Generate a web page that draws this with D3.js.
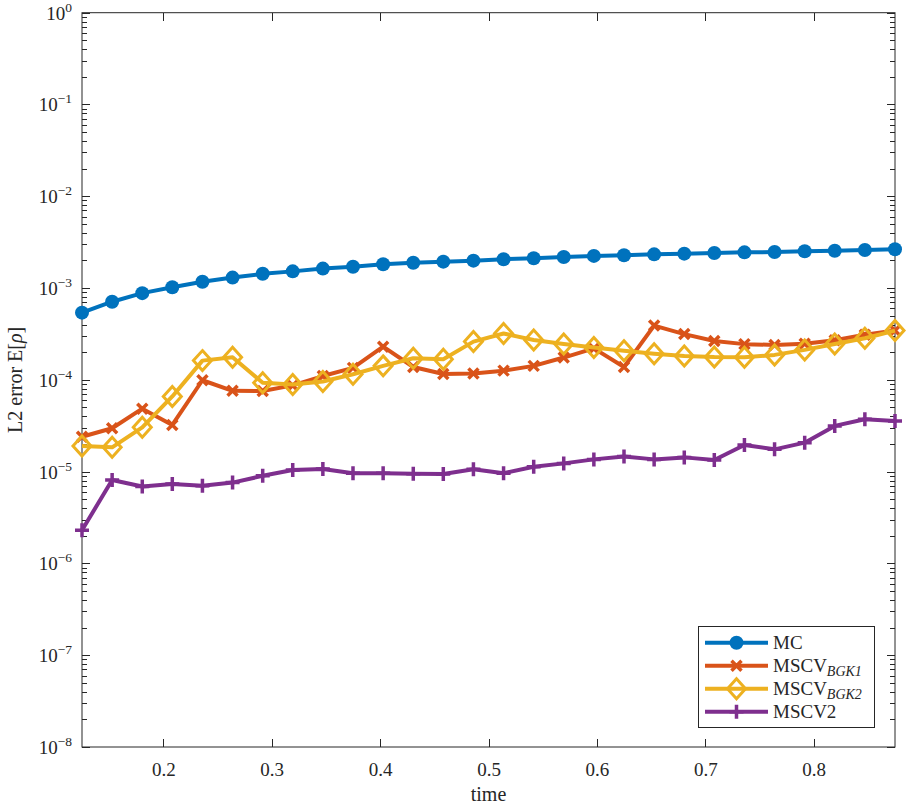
<!DOCTYPE html>
<html lang="en">
<head>
<meta charset="UTF-8">
<title>L2 error</title>
<script src="https://d3js.org/d3.v7.min.js"></script>
<style>
    body { margin: 0; background: #fff; }
    text { font-family: "Liberation Serif", "DejaVu Serif", serif; fill: #262626; }
    .axis path, .axis line { stroke: #262626; stroke-width: 1; shape-rendering: crispEdges; }
</style>
</head>
<body>
<svg id="chart" width="907" height="805"></svg>
<script>
// time steps
const times = [0.125, 0.1528, 0.1806, 0.2083, 0.2361, 0.2639, 0.2917, 0.3194, 0.3472, 0.375,
    0.4028, 0.4306, 0.4583, 0.4861, 0.5139, 0.5417, 0.5694, 0.5972, 0.625, 0.6528,
    0.6806, 0.7083, 0.7361, 0.7639, 0.7917, 0.8194, 0.8472, 0.875];

const mc = [5.4e-4, 7.1e-4, 8.8e-4, 1.02e-3, 1.17e-3, 1.30e-3, 1.43e-3, 1.52e-3, 1.63e-3, 1.71e-3,
    1.82e-3, 1.89e-3, 1.94e-3, 1.99e-3, 2.06e-3, 2.11e-3, 2.18e-3, 2.24e-3, 2.28e-3, 2.33e-3,
    2.37e-3, 2.41e-3, 2.45e-3, 2.47e-3, 2.52e-3, 2.55e-3, 2.60e-3, 2.65e-3];

const bgk1 = [2.4e-5, 2.97e-5, 4.85e-5, 3.23e-5, 9.9e-5, 7.6e-5, 7.55e-5, 8.7e-5, 1.1e-4, 1.35e-4,
    2.3e-4, 1.38e-4, 1.16e-4, 1.17e-4, 1.26e-4, 1.42e-4, 1.75e-4, 2.2e-4, 1.38e-4, 3.9e-4,
    3.15e-4, 2.65e-4, 2.45e-4, 2.4e-4, 2.48e-4, 2.7e-4, 3.1e-4, 3.45e-4];

const bgk2 = [1.9e-5, 1.84e-5, 3.04e-5, 6.6e-5, 1.62e-4, 1.76e-4, 9.3e-5, 8.9e-5, 9.6e-5, 1.15e-4,
    1.42e-4, 1.72e-4, 1.68e-4, 2.61e-4, 3.2e-4, 2.72e-4, 2.46e-4, 2.25e-4, 2.08e-4, 1.93e-4,
    1.82e-4, 1.77e-4, 1.76e-4, 1.87e-4, 2.12e-4, 2.46e-4, 2.84e-4, 3.44e-4];

const mscv2 = [2.3e-6, 8.1e-6, 6.9e-6, 7.35e-6, 7.0e-6, 7.6e-6, 9.0e-6, 1.04e-5, 1.07e-5, 9.6e-6,
    9.6e-6, 9.5e-6, 9.44e-6, 1.06e-5, 9.6e-6, 1.13e-5, 1.23e-5, 1.36e-5, 1.46e-5, 1.36e-5,
    1.43e-5, 1.34e-5, 1.95e-5, 1.75e-5, 2.07e-5, 3.15e-5, 3.72e-5, 3.56e-5];

const xTicks = [0.2, 0.3, 0.4, 0.5, 0.6, 0.7, 0.8];
const yExponents = [0, -1, -2, -3, -4, -5, -6, -7, -8];

const series = [
    { name: "MC", sub: null, values: mc, color: "#0072BD", marker: "circle" },
    { name: "MSCV", sub: "BGK1", values: bgk1, color: "#D95319", marker: "cross" },
    { name: "MSCV", sub: "BGK2", values: bgk2, color: "#EDB120", marker: "diamond" },
    { name: "MSCV2", sub: null, values: mscv2, color: "#7E2F8E", marker: "plus" }
];

const plotL = 82, plotR = 895, plotT = 12.7, plotB = 747;
const svg = d3.select("#chart");

const x = d3.scaleLinear().domain([0.125, 0.875]).range([plotL, plotR]);
const y = d3.scaleLog().domain([1e-8, 1]).range([plotB, plotT]);

// minor log ticks
const minor = [];
for (let e = -8; e < 0; e++) {
    for (let m = 2; m <= 9; m++) minor.push(m * Math.pow(10, e));
}
const major = yExponents.map(e => Math.pow(10, e));

// box
svg.append("rect")
    .attr("x", plotL).attr("y", plotT)
    .attr("width", plotR - plotL).attr("height", plotB - plotT)
    .attr("fill", "none").attr("stroke", "#262626").attr("stroke-width", 1);

// x axes
svg.append("g").attr("class", "axis")
    .attr("transform", `translate(0,${plotB})`)
    .call(d3.axisBottom(x).tickValues(xTicks).tickSizeInner(-8).tickSizeOuter(0)
        .tickPadding(16).tickFormat(d3.format(".1f")))
    .call(g => g.select(".domain").remove())
    .selectAll("text").style("font-size", "19px").attr("fill", "#262626");

svg.append("g").attr("class", "axis")
    .attr("transform", `translate(0,${plotT})`)
    .call(d3.axisTop(x).tickValues(xTicks).tickSizeInner(-8).tickSizeOuter(0).tickFormat(""))
    .call(g => g.select(".domain").remove());

// y axes, left and right
[[plotL, d3.axisLeft], [plotR, d3.axisRight]].forEach(([px, fn]) => {
    svg.append("g").attr("class", "axis")
        .attr("transform", `translate(${px},0)`)
        .call(fn(y).tickValues(major).tickSizeInner(-8).tickSizeOuter(0).tickFormat(""))
        .call(g => g.select(".domain").remove());
    svg.append("g").attr("class", "axis")
        .attr("transform", `translate(${px},0)`)
        .call(fn(y).tickValues(minor).tickSizeInner(-5).tickSizeOuter(0).tickFormat(""))
        .call(g => g.select(".domain").remove());
});

// y tick labels 10^e
yExponents.forEach(e => {
    const t = svg.append("text")
        .attr("x", 72).attr("y", y(Math.pow(10, e)) + 7)
        .attr("text-anchor", "end")
        .style("font-size", "19px");
    t.append("tspan").text("10");
    t.append("tspan").attr("dy", -8).style("font-size", "13.5px")
        .text(e === 0 ? "0" : "\u2212" + Math.abs(e));
});

// axis titles
svg.append("text")
    .attr("x", (plotL + plotR) / 2).attr("y", 801)
    .attr("text-anchor", "middle").style("font-size", "20px")
    .text("time");

const yl = svg.append("text")
    .attr("transform", `translate(22,${(plotT + plotB) / 2}) rotate(-90)`)
    .attr("text-anchor", "middle").style("font-size", "20px");
yl.append("tspan").text("L2 error E[");
yl.append("tspan").style("font-style", "italic").text("\u03C1");
yl.append("tspan").text("]");

// marker drawing
function drawMarker(g, type, color) {
    if (type === "circle") {
        g.append("circle").attr("r", 7).attr("fill", color);
    } else if (type === "cross") {
        g.append("path").attr("d", "M-5,-5L5,5M-5,5L5,-5")
            .attr("stroke", color).attr("stroke-width", 3.5).attr("fill", "none");
    } else if (type === "diamond") {
        g.append("path").attr("d", "M0,-10L9,0L0,10L-9,0Z")
            .attr("stroke", color).attr("stroke-width", 3).attr("fill", "none");
    } else if (type === "plus") {
        g.append("path").attr("d", "M0,-7L0,7M-7,0L7,0")
            .attr("stroke", color).attr("stroke-width", 3.5).attr("fill", "none");
    }
}

const line = d3.line().x(d => x(d[0])).y(d => y(d[1]));

series.forEach(s => {
    const pts = times.map((t, i) => [t, s.values[i]]);
    const g = svg.append("g");
    g.append("path").datum(pts)
        .attr("d", line).attr("fill", "none")
        .attr("stroke", s.color).attr("stroke-width", 4)
        .attr("stroke-linejoin", "round");
    g.selectAll(".m").data(pts).enter().append("g")
        .attr("transform", d => `translate(${x(d[0])},${y(d[1])})`)
        .each(function () { drawMarker(d3.select(this), s.marker, s.color); });
});

// legend
const lg = svg.append("g");
lg.append("rect")
    .attr("x", 698.5).attr("y", 626.5).attr("width", 176).attr("height", 101)
    .attr("fill", "#fff").attr("stroke", "#262626").attr("stroke-width", 1);
series.forEach((s, i) => {
    const cy = 642.7 + i * 23;
    lg.append("line").attr("x1", 705).attr("x2", 768).attr("y1", cy).attr("y2", cy)
        .attr("stroke", s.color).attr("stroke-width", 4);
    drawMarker(lg.append("g").attr("transform", `translate(736.5,${cy})`), s.marker, s.color);
    const t = lg.append("text").attr("x", 773).attr("y", cy + 6.5).style("font-size", "19px");
    t.append("tspan").text(s.name);
    if (s.sub) {
        t.append("tspan").attr("dy", 4).style("font-size", "14px")
            .style("font-style", "italic").text(s.sub);
    }
});
</script>
</body>
</html>
